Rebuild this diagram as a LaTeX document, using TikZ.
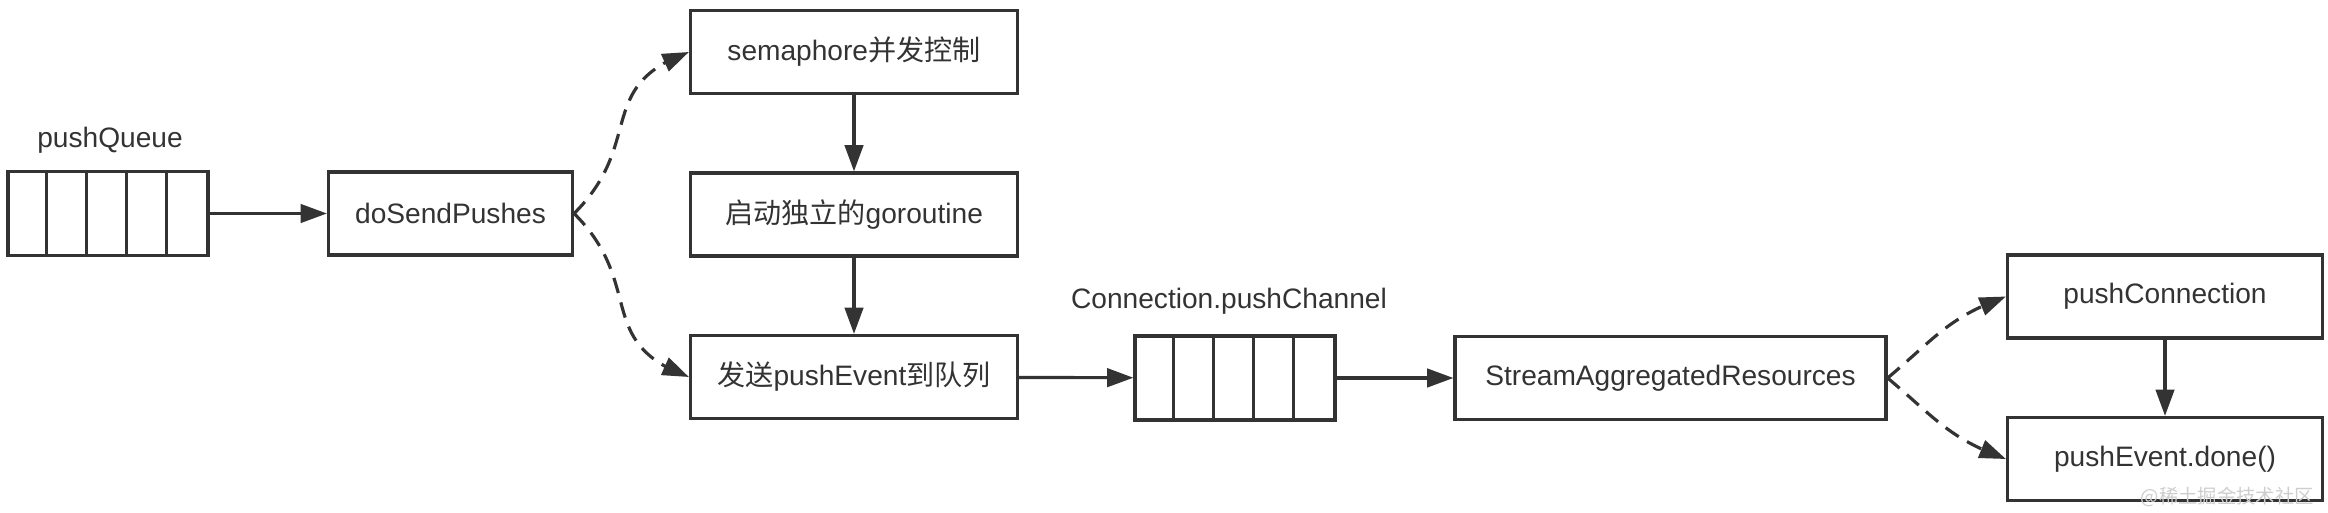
\documentclass[tikz,border=0pt]{standalone}
\usepackage{fontspec}
\setmainfont{Liberation Sans}
\newfontfamily\cjk{Noto Sans CJK SC}
\definecolor{linegray}{RGB}{51,51,51}
\definecolor{markgray}{RGB}{205,205,205}
\usetikzlibrary{arrows.meta,bending}

\begin{document}
\begin{tikzpicture}[
    font=\fontsize{16}{19}\selectfont,
    box/.style={draw=linegray,line width=1.8pt,minimum width=6.54cm,minimum height=1.66cm,text=linegray},
    queue/.style={draw=linegray,line width=1.8pt,minimum width=4cm,minimum height=1.68cm},
    flow/.style={draw=linegray,line width=1.8pt,-{Triangle[length=15pt,width=10.5pt]}},
    maybe/.style={flow,dash pattern=on 9pt off 5.5pt}]
  \useasboundingbox (0,0) rectangle (46.56,10.24);
  \node[queue] (pq) at (2.16,5.97) {};
  \node[text=linegray] (pqlabel) at (2.2,7.44) {pushQueue};
  \node[box,minimum width=4.88cm] (ds) at (9.01,5.97) {doSendPushes};
  \node[box] (sema) at (17.08,9.2) {semaphore{\cjk 并发控制}};
  \node[box] (gor) at (17.08,5.95) {{\cjk 启动独立的}goroutine};
  \node[box] (send) at (17.08,2.7) {{\cjk 发送}pushEvent{\cjk 到队列}};
  \node[queue] (pch) at (24.7,2.68) {};
  \node[text=linegray] (pchlabel) at (24.58,4.22) {Connection.pushChannel};
  \node[box,minimum width=8.62cm] (sar) at (33.41,2.68) {StreamAggregatedResources};
  \node[box,minimum width=6.3cm] (pconn) at (43.3,4.31) {pushConnection};
  \node[box,minimum width=6.3cm] (done) at (43.3,1.06) {pushEvent.done()};
  \node[text=markgray,font=\fontsize{11}{13}\selectfont\cjk,anchor=east] (mark) at (46.4,0.3) {@稀土掘金技术社区};
  \foreach \q in {pq,pch}
    \foreach \i in {1,...,4}
      \draw[linegray,line width=1.8pt] ([xshift=\i*0.8cm]\q.north west) -- ([xshift=\i*0.8cm]\q.south west);
  \draw[flow] (pq) -- (ds);
  \draw[maybe] (ds.east) to[out=45,in=200,looseness=1.3] (sema.west);
  \draw[maybe] (ds.east) to[out=-45,in=160,looseness=1.3] (send.west);
  \draw[flow] (sema) -- (gor);
  \draw[flow] (gor) -- (send);
  \draw[flow] (send) -- (pch);
  \draw[flow] (pch) -- (sar);
  \draw[maybe] (sar.east) to[out=40,in=200,looseness=1.1] (pconn.west);
  \draw[maybe] (sar.east) to[out=-40,in=160,looseness=1.1] (done.west);
  \draw[flow] (pconn) -- (done);
\end{tikzpicture}
\end{document}
